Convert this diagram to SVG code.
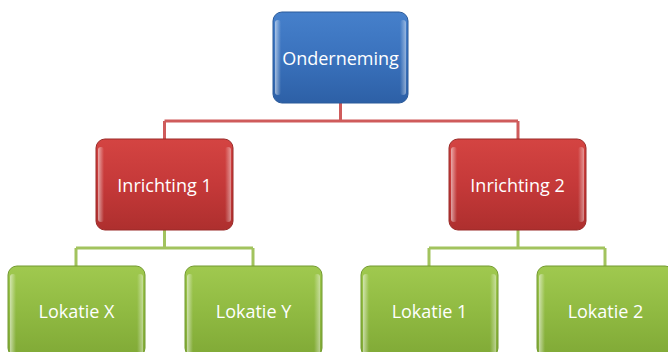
<svg xmlns="http://www.w3.org/2000/svg" width="668" height="352" viewBox="0 0 668 352">
<defs>
<linearGradient id="gb" x1="0" y1="0" x2="0" y2="1"><stop offset="0" stop-color="#4680cb"/><stop offset="0.5" stop-color="#3a72bd"/><stop offset="1" stop-color="#2d60a6"/></linearGradient>
<linearGradient id="gr" x1="0" y1="0" x2="0" y2="1"><stop offset="0" stop-color="#d44442"/><stop offset="0.5" stop-color="#c53939"/><stop offset="1" stop-color="#ae2f2e"/></linearGradient>
<linearGradient id="gg" x1="0" y1="0" x2="0" y2="1"><stop offset="0" stop-color="#a0c94f"/><stop offset="0.5" stop-color="#90ba42"/><stop offset="1" stop-color="#80a936"/></linearGradient>
<linearGradient id="hl" x1="0" y1="0" x2="1" y2="0"><stop offset="0" stop-color="#fff" stop-opacity="0.55"/><stop offset="1" stop-color="#fff" stop-opacity="0"/></linearGradient>
<linearGradient id="hr" x1="0" y1="0" x2="1" y2="0"><stop offset="0" stop-color="#fff" stop-opacity="0"/><stop offset="1" stop-color="#fff" stop-opacity="0.45"/></linearGradient>
</defs>
<style>
.lbl{font-family:"Open Sans","Liberation Sans",sans-serif;font-size:18px;fill:#fff;text-anchor:middle;dominant-baseline:central}
.b{fill:url(#gb);stroke:#2a5a9a;stroke-width:1}
.r{fill:url(#gr);stroke:#9a2a28;stroke-width:1}
.g{fill:url(#gg);stroke:#739a30;stroke-width:1}
.hl{fill:url(#hl)}
.hr{fill:url(#hr)}
.cr{stroke:#cf5b5b;stroke-width:3;fill:none}
.cg{stroke:#a2c35e;stroke-width:3;fill:none}
</style>
<g id="connectors">
<path class="cr" d="M340.5 103 V121 M164.5 121 H518 M164.5 121 V139 M518 121 V139"/>
<path class="cg" d="M164.5 230 V248 M76 248 H253 M76 248 V266 M253 248 V266"/>
<path class="cg" d="M518 230 V248 M429 248 H605 M429 248 V266 M605 248 V266"/>
</g>
<g id="onderneming">
<rect class="b" x="273" y="12" width="135" height="91" rx="9"/>
<rect class="hl" x="275" y="20" width="6" height="75" rx="3"/>
<rect class="hr" x="400" y="20" width="6" height="75" rx="3"/>
<text class="lbl" x="340.5" y="58">Onderneming</text>
</g>
<g id="inrichting1">
<rect class="r" x="96" y="139" width="137" height="91" rx="9"/>
<rect class="hl" x="98" y="147" width="6" height="75" rx="3"/>
<rect class="hr" x="225" y="147" width="6" height="75" rx="3"/>
<text class="lbl" x="164.5" y="185">Inrichting 1</text>
</g>
<g id="inrichting2">
<rect class="r" x="449" y="139" width="137" height="91" rx="9"/>
<rect class="hl" x="451" y="147" width="6" height="75" rx="3"/>
<rect class="hr" x="578" y="147" width="6" height="75" rx="3"/>
<text class="lbl" x="517.5" y="185">Inrichting 2</text>
</g>
<g id="lokatieX">
<rect class="g" x="8" y="266" width="137" height="91" rx="9"/>
<rect class="hl" x="10" y="274" width="6" height="80" rx="3"/>
<rect class="hr" x="137" y="274" width="6" height="80" rx="3"/>
<text class="lbl" x="76.5" y="311">Lokatie X</text>
</g>
<g id="lokatieY">
<rect class="g" x="185" y="266" width="137" height="91" rx="9"/>
<rect class="hl" x="187" y="274" width="6" height="80" rx="3"/>
<rect class="hr" x="314" y="274" width="6" height="80" rx="3"/>
<text class="lbl" x="253.5" y="311">Lokatie Y</text>
</g>
<g id="lokatie1">
<rect class="g" x="361" y="266" width="137" height="91" rx="9"/>
<rect class="hl" x="363" y="274" width="6" height="80" rx="3"/>
<rect class="hr" x="490" y="274" width="6" height="80" rx="3"/>
<text class="lbl" x="429.5" y="311">Lokatie 1</text>
</g>
<g id="lokatie2">
<rect class="g" x="537" y="266" width="137" height="91" rx="9"/>
<rect class="hl" x="539" y="274" width="6" height="80" rx="3"/>
<text class="lbl" x="605.5" y="311">Lokatie 2</text>
</g>
</svg>
